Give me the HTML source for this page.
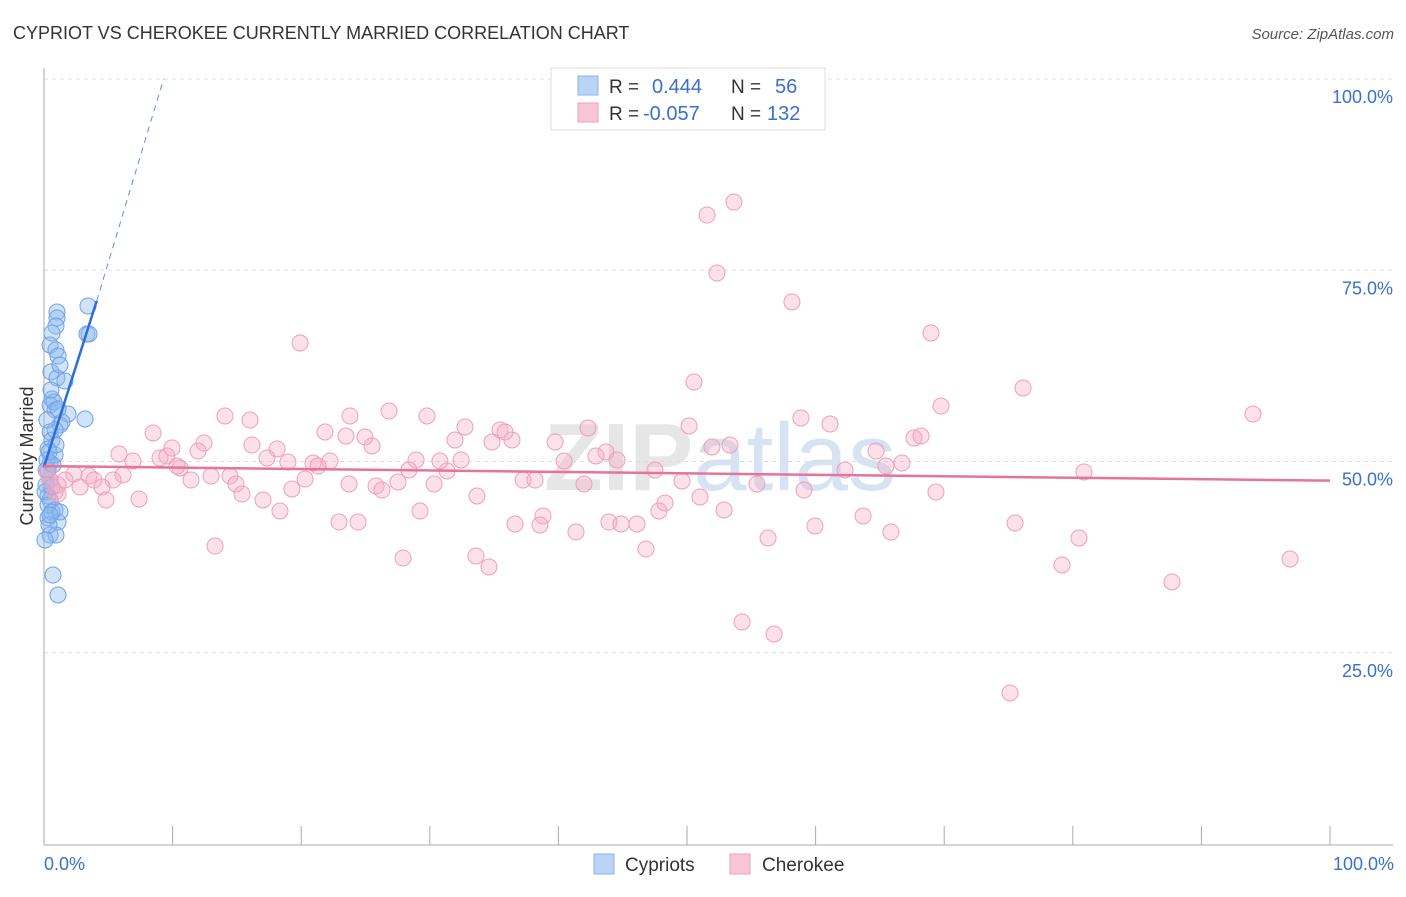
<!DOCTYPE html>
<html><head><meta charset="utf-8"><style>
body{margin:0;background:#fff;font-family:"Liberation Sans",sans-serif;}
svg text{font-family:"Liberation Sans",sans-serif;}
</style></head><body>
<svg id="chart" width="1406" height="892" xmlns="http://www.w3.org/2000/svg">
<text x="13" y="39" font-size="18" fill="#333">CYPRIOT VS CHEROKEE CURRENTLY MARRIED CORRELATION CHART</text>
<text x="1394" y="39" font-size="15" fill="#555" text-anchor="end" font-style="italic">Source: ZipAtlas.com</text>
<text x="720" y="490" font-size="96" fill="#e6e6e6" text-anchor="middle" font-weight="bold">ZIP<tspan fill="#d6e3f3" font-weight="normal">atlas</tspan></text>
<g id="grid"></g>
<g id="axes"></g>
<g id="pts"></g>
<g id="trends"></g>
<text transform="translate(33,456) rotate(-90)" font-size="18" fill="#333" text-anchor="middle">Currently Married</text>
<text x="44" y="870" font-size="18" fill="#3a70cc">0.0%</text>
<text x="1394" y="870" font-size="18" fill="#3a70cc" text-anchor="end">100.0%</text>
<g>
<rect x="551" y="68" width="274" height="62" fill="#fff" stroke="#ddd"/>
<rect x="578" y="76" width="20" height="19" fill="#b9d3f5" stroke="#8ab4ea"/>
<rect x="578" y="103" width="20" height="19" fill="#f8c6d5" stroke="#eea0b8"/>
<text x="609" y="93" font-size="19" fill="#333">R =</text>
<text x="652" y="93" font-size="20" fill="#3a70cc">0.444</text>
<text x="731" y="93" font-size="19" fill="#333">N =</text>
<text x="775" y="93" font-size="20" fill="#3a70cc">56</text>
<text x="609" y="120" font-size="19" fill="#333">R =</text>
<text x="643" y="120" font-size="20" fill="#3a70cc">-0.057</text>
<text x="731" y="120" font-size="19" fill="#333">N =</text>
<text x="767" y="120" font-size="20" fill="#3a70cc">132</text>
</g>
<g>
<rect x="594" y="854" width="20" height="20" fill="#b9d3f5" stroke="#8ab4ea"/>
<text x="625" y="871" font-size="19" fill="#333">Cypriots</text>
<rect x="730" y="854" width="20" height="20" fill="#f8c6d5" stroke="#eea0b8"/>
<text x="762" y="871" font-size="19" fill="#333">Cherokee</text>
</g>
</svg>
<script>
const yTicks=[25,50,75,100];
const yTickLabels=["25.0%","50.0%","75.0%","100.0%"];
const xTicks=[0,10,20,30,40,50,60,70,80,90,100];
const bluePx=[[57,312],[57,318],[56,326],[52,333],[50,345],[56,350],[58,356],[51,372],[57,378],[65,381],[52,399],[50,405],[55,410],[68,414],[85,419],[60,425],[50,432],[52,440],[48,449],[55,455],[50,463],[48,470],[50,480],[46,485],[48,496],[50,500],[55,510],[48,518],[58,522],[50,535],[56,535],[45,540],[53,575],[58,595],[88,306],[87,334],[89,334],[62,422],[45,492],[48,505],[52,512],[60,512],[46,470],[47,460],[53,465],[54,402],[58,409],[49,452],[52,487],[55,430],[47,420],[51,390],[60,365],[49,525],[56,445],[50,515]];
const pinkPx=[[734,202],[707,215],[717,273],[792,302],[931,333],[300,343],[694,382],[1023,388],[941,406],[1253,414],[389,411],[427,416],[250,420],[225,416],[350,416],[588,428],[801,418],[830,424],[689,426],[465,427],[500,430],[512,440],[505,432],[153,433],[325,432],[346,436],[365,437],[372,446],[455,440],[492,442],[555,442],[204,443],[172,448],[914,438],[921,436],[876,451],[252,445],[277,449],[712,447],[730,445],[606,452],[596,456],[617,460],[119,454],[133,461],[160,458],[167,456],[198,451],[267,458],[288,462],[313,463],[318,466],[330,461],[416,460],[440,461],[461,460],[564,461],[902,463],[886,466],[845,470],[1084,472],[180,468],[177,466],[74,474],[89,476],[65,480],[123,475],[94,480],[113,480],[191,480],[211,476],[230,476],[236,484],[305,479],[409,470],[447,471],[655,470],[682,481],[523,480],[535,480],[376,486],[398,482],[382,490],[434,484],[349,484],[58,494],[102,487],[80,487],[242,494],[263,500],[292,489],[106,500],[139,499],[477,496],[700,497],[757,484],[804,490],[936,492],[280,511],[420,511],[584,484],[665,503],[659,511],[724,510],[863,516],[339,522],[358,522],[515,524],[543,516],[540,525],[576,532],[609,522],[621,524],[637,524],[891,532],[1015,523],[815,526],[768,538],[1079,538],[215,546],[646,549],[476,556],[489,567],[403,558],[1062,565],[1290,559],[1172,582],[742,622],[774,634],[1010,693],[50,480],[55,492],[58,485],[47,472]];
// convert picture readings to data values (%)
const blueX=bluePx.map(p=>+((p[0]-44)/12.86).toFixed(2));
const blueY=bluePx.map(p=>+((844-p[1])/7.65).toFixed(2));
const pinkX=pinkPx.map(p=>+((p[0]-44)/12.86).toFixed(2));
const pinkY=pinkPx.map(p=>+((844-p[1])/7.65).toFixed(2));
const blueTrend=[[0,49.3],[4.1,71]];
const blueDash=[[4.1,71],[9.3,100]];
const pinkTrend=[[0,49.4],[100,47.5]];
const X=v=>44+v*12.86, Y=v=>844-v*7.65;
const NS="http://www.w3.org/2000/svg";
function mk(tag,attrs,parent){const e=document.createElementNS(NS,tag);for(const k in attrs)e.setAttribute(k,attrs[k]);document.getElementById(parent).appendChild(e);return e;}
yTicks.forEach((t,i)=>{
 const l=mk('line',{x1:44,x2:1393,y1:Y(t),y2:Y(t),stroke:'#ddd','stroke-dasharray':'4,4'},'grid');
 
 
 const tx=mk('text',{x:1393,y:Y(t)+24,'font-size':18,fill:'#3a70cc','text-anchor':'end'},'grid');
 tx.textContent=yTickLabels[i];
 
 
});
let a=mk('line',{x1:44,x2:44,y1:68,y2:845,stroke:'#aaa'},'axes');


a=mk('line',{x1:44,x2:1393,y1:845,y2:845,stroke:'#aaa'},'axes');


xTicks.forEach(t=>{const l=mk('line',{x1:X(t),x2:X(t),y1:826,y2:845,stroke:'#aaa'},'axes');
 
 });
blueX.forEach((x,i)=>{const c=mk('circle',{cx:X(x),cy:Y(blueY[i]),r:8,fill:'rgba(140,185,240,0.4)',stroke:'#6fa0e6','stroke-width':1},'pts');
 
 });
pinkX.forEach((x,i)=>{const c=mk('circle',{cx:X(x),cy:Y(pinkY[i]),r:8,fill:'rgba(245,170,195,0.35)',stroke:'#eea0b8','stroke-width':1},'pts');
 
 });
let t=mk('line',{x1:X(blueTrend[0][0]),y1:Y(blueTrend[0][1]),x2:X(blueTrend[1][0]),y2:Y(blueTrend[1][1]),stroke:'#2a6fd8','stroke-width':2.5},'trends');


t=mk('line',{x1:X(blueDash[0][0]),y1:Y(blueDash[0][1]),x2:X(blueDash[1][0]),y2:Y(blueDash[1][1]),stroke:'#5b8fdc','stroke-width':1,'stroke-dasharray':'6,5'},'trends');


t=mk('line',{x1:X(pinkTrend[0][0]),y1:Y(pinkTrend[0][1]),x2:X(pinkTrend[1][0]),y2:Y(pinkTrend[1][1]),stroke:'#e8739a','stroke-width':2.5},'trends');


</script>
</body></html>
